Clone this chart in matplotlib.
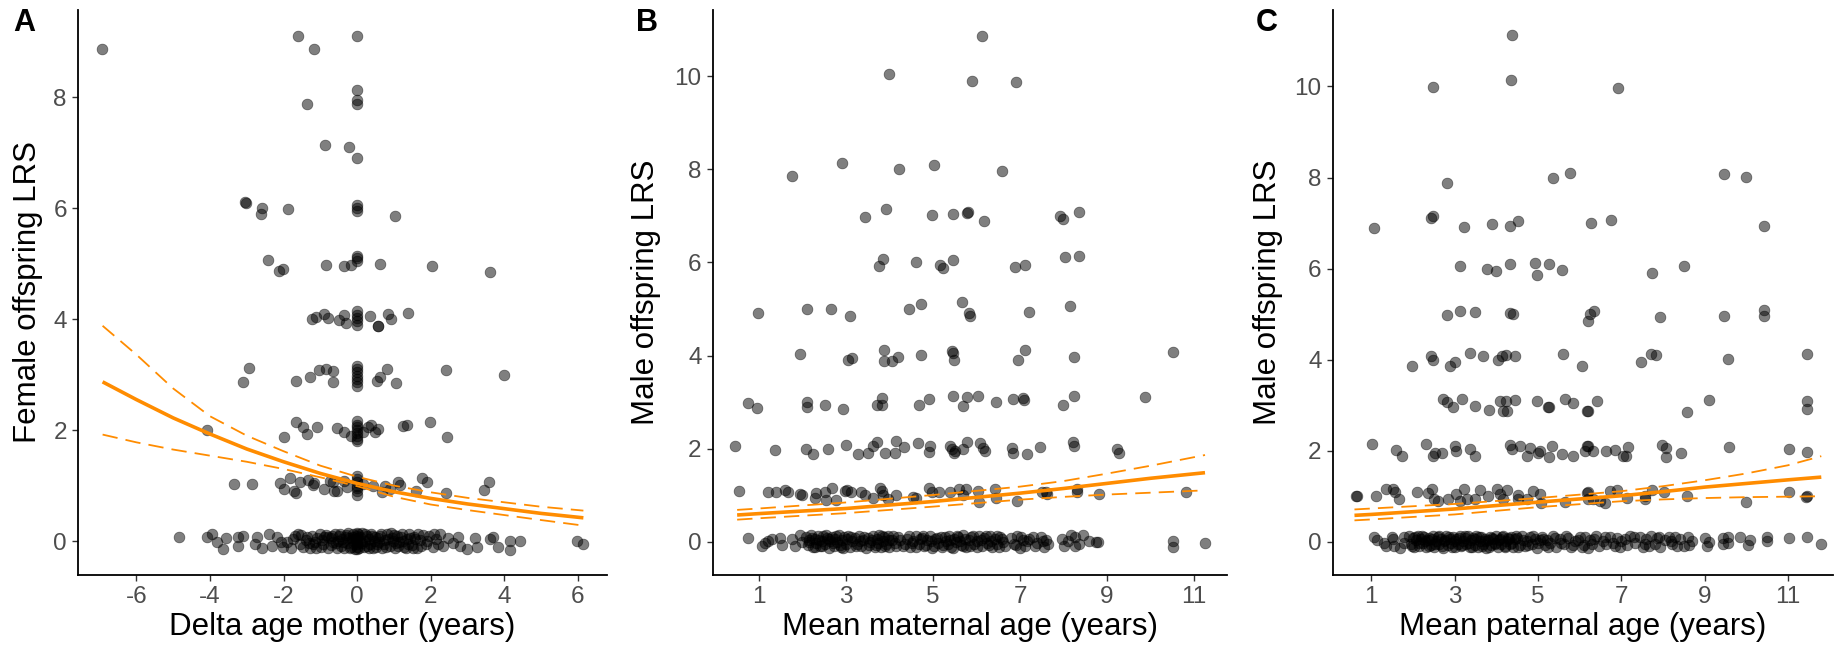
import numpy as np
import matplotlib
matplotlib.use("Agg")
import matplotlib.pyplot as plt

plt.rcParams["font.family"] = ["Liberation Sans", "DejaVu Sans"]
plt.rcParams["axes.unicode_minus"] = False

# ---- panel A: female offspring LRS vs delta age mother ----
a_points = [
    (-6.94, 8.87), (-1.62, 9.10), (0.0, 9.10), (-1.18, 8.87), (0.0, 8.13), (0.0, 7.95), (0.0, 7.87), (-1.35, 7.87),
    (-0.87, 7.14), (-0.23, 7.11), (0.0, 6.90),
    (-3.04, 6.11), (-3.02, 6.10), (-2.59, 6.01), (-2.61, 5.89), (-1.88, 5.99), (0.0, 6.06), (0.0, 6.01), (0.0, 5.95), (1.02, 5.86),
    (-2.42, 5.07), (-2.13, 4.87), (-2.01, 4.90), (-0.86, 4.97), (-0.35, 4.95), (-0.18, 4.97), (0.0, 5.14), (0.0, 5.11),
    (0.0, 5.05), (0.63, 5.0), (2.04, 4.95), (3.60, 4.85),
    (-1.22, 4.01), (-1.11, 4.04), (-0.91, 4.10), (-0.78, 4.02), (-0.49, 3.98), (-0.35, 4.08), (-0.30, 3.93), (0.0, 4.14),
    (0.0, 4.08), (0.0, 4.02), (0.0, 3.96), (0.0, 3.89), (0.34, 4.05), (0.56, 3.87), (0.58, 3.88), (0.83, 4.10), (0.91, 4.01),
    (1.37, 4.11),
    (-2.95, 3.12), (-3.11, 2.86), (-1.66, 2.88), (-1.28, 2.96), (-1.05, 3.08), (-0.85, 3.10), (-0.66, 3.06), (-0.66, 2.86),
    (0.0, 3.16), (0.0, 3.10), (0.0, 3.04), (0.0, 2.98), (0.0, 2.92), (0.0, 2.86), (0.0, 2.80), (0.53, 2.89), (0.62, 2.95),
    (0.80, 3.10), (1.05, 2.85), (2.41, 3.08), (3.98, 3.0),
    (-4.07, 2.01), (-1.98, 1.87), (-1.66, 2.14), (-1.48, 2.05), (-1.35, 1.93), (-1.10, 2.05), (-0.55, 2.03), (-0.37, 1.96),
    (-0.17, 1.90), (0.0, 2.16), (0.0, 2.10), (0.0, 2.05), (0.0, 2.0), (0.0, 1.95), (0.0, 1.90), (0.0, 1.84), (0.0, 1.80),
    (0.17, 1.96), (0.30, 2.05), (0.38, 2.10), (0.48, 1.96), (0.56, 2.02), (1.26, 2.07), (1.36, 2.10), (1.98, 2.15), (2.45, 1.87),
    (-3.35, 1.03), (-2.87, 1.03), (-2.10, 1.05), (-1.99, 0.94), (-1.82, 1.14), (-1.71, 0.91), (-1.67, 0.86), (-1.55, 1.06),
    (-1.33, 1.10), (-1.21, 1.02), (-1.17, 1.05), (-0.90, 0.94), (-0.74, 1.09), (-0.63, 0.90), (-0.65, 1.06), (-0.56, 0.91),
    (-0.37, 1.09), (-0.28, 0.97), (0.0, 1.18), (0.0, 1.12), (0.0, 1.06), (0.0, 1.0), (0.0, 0.95), (0.0, 0.90), (0.0, 0.84),
    (0.17, 1.03), (0.44, 1.0), (0.67, 0.88), (0.76, 1.0), (0.89, 0.94), (1.12, 1.06), (1.17, 1.02), (1.60, 0.90), (1.76, 1.13),
    (1.91, 1.06), (2.42, 0.86), (3.45, 0.92), (3.58, 1.07),
    (-4.83, 0.07), (-4.07, 0.07), (-3.95, 0.12), (-3.82, -0.02), (-3.64, -0.14), (-3.57, 0.05), (-3.25, -0.09), (-3.23, 0.07),
    (-3.11, 0.09), (-2.77, -0.05), (-2.73, 0.07), (-2.60, -0.13), (-2.39, 0.13), (-2.32, -0.09), (-2.18, 0.07), (-2.07, -0.02),
    (-2.02, -0.11), (-1.91, -0.01), (-1.80, -0.13), (-1.69, 0.10), (-1.60, 0.12), (-1.55, -0.06), (-1.46, -0.11), (-1.40, 0.02),
    (-1.35, 0.07), (-1.28, -0.12), (-1.24, 0.10), (-1.20, -0.06), (-1.15, -0.02), (-1.10, 0.05), (-1.01, 0.13), (-0.98, -0.10),
    (-0.92, -0.05), (-0.90, 0.08), (-0.85, 0.11), (-0.78, 0.07), (-0.72, -0.07), (-0.70, 0.05), (-0.65, -0.01), (-0.60, 0.12),
    (-0.55, -0.12), (-0.52, 0.0), (-0.48, 0.09), (-0.44, -0.08), (-0.40, 0.03), (-0.35, -0.13), (-0.31, 0.11), (-0.27, -0.04),
    (-0.25, 0.14), (-0.22, 0.06), (-0.18, -0.10), (-0.15, 0.02), (-0.12, 0.13), (-0.08, -0.06), (-0.04, 0.04),
    (0.0, 0.15), (0.0, 0.10), (0.0, 0.05), (0.0, 0.0), (0.0, -0.05), (0.0, -0.10), (0.0, -0.15),
    (0.05, -0.12), (0.09, 0.08), (0.14, -0.03), (0.20, 0.12), (0.22, 0.0), (0.26, -0.09), (0.31, 0.04), (0.35, -0.06),
    (0.37, 0.13), (0.42, -0.13), (0.45, 0.01), (0.48, 0.07), (0.55, -0.05), (0.58, 0.06), (0.62, 0.10), (0.68, -0.12),
    (0.75, 0.02), (0.78, -0.10), (0.82, 0.12), (0.88, -0.08), (0.92, 0.14), (0.95, 0.05), (0.98, 0.0), (1.02, -0.13),
    (1.08, 0.09), (1.12, -0.08), (1.15, -0.02), (1.18, 0.07), (1.22, 0.12), (1.28, -0.10), (1.35, 0.04), (1.38, -0.05),
    (1.42, 0.13), (1.48, -0.07), (1.55, 0.08), (1.58, 0.03), (1.62, -0.12), (1.70, 0.02), (1.78, 0.11), (1.86, -0.06),
    (1.95, 0.09), (2.05, -0.11), (2.14, 0.04), (2.25, 0.12), (2.34, -0.08), (2.48, 0.06), (2.60, -0.03), (2.75, 0.07),
    (2.80, -0.09), (2.99, -0.14), (3.20, 0.05), (3.25, -0.11), (3.61, 0.04), (3.70, 0.08), (3.84, -0.11), (4.15, 0.0),
    (4.15, -0.16), (4.43, 0.0), (5.97, 0.01), (6.15, -0.05),
    # second layer of the crowded zero band
    (-1.75, 0.03), (-1.52, 0.11), (-1.32, -0.03), (-1.12, -0.13), (-0.95, 0.02), (-0.80, -0.12), (-0.68, 0.10),
    (-0.58, -0.04), (-0.46, 0.13), (-0.38, -0.01), (-0.29, 0.08), (-0.20, -0.13), (-0.10, 0.07), (-0.06, -0.14),
    (0.03, 0.12), (0.07, -0.02), (0.12, 0.14), (0.18, -0.10), (0.28, 0.10), (0.33, -0.13), (0.40, 0.09), (0.52, -0.10),
    (0.60, -0.02), (0.65, 0.13), (0.72, -0.06), (0.85, 0.03), (1.00, 0.11), (1.05, -0.04), (1.25, 0.01), (1.32, -0.13),
    (1.45, 0.05), (1.52, -0.13), (1.66, 0.12), (1.74, -0.09), (1.90, 0.0), (2.10, 0.12), (2.20, -0.06),
]
a_fit_x = [-6.92, -6, -5, -4, -3, -2, -1, 0, 1, 2, 3, 4, 5, 6.15]
a_fit = [2.87, 2.55, 2.22, 1.93, 1.66, 1.43, 1.22, 1.04, 0.89, 0.77, 0.67, 0.585, 0.50, 0.42]
a_upper = [3.88, 3.36, 2.75, 2.25, 1.90, 1.62, 1.36, 1.16, 1.00, 0.88, 0.78, 0.70, 0.62, 0.55]
a_lower = [1.92, 1.78, 1.65, 1.54, 1.43, 1.30, 1.15, 0.99, 0.80, 0.66, 0.56, 0.47, 0.38, 0.28]

# ---- panel B: male offspring LRS vs mean maternal age ----
b_points = [
    (6.13, 10.86), (3.99, 10.06), (5.89, 9.91), (6.90, 9.89), (2.91, 8.15), (1.77, 7.86), (4.21, 8.01), (5.03, 8.09), (6.58, 7.96),
    (3.44, 6.98), (3.91, 7.14), (4.98, 7.02), (5.46, 7.05), (5.78, 7.07), (5.80, 7.08), (6.17, 6.89), (7.91, 7.0), (7.99, 6.93),
    (8.35, 7.09),
    (3.76, 5.93), (3.86, 6.08), (4.61, 6.01), (5.16, 5.94), (5.22, 5.89), (5.46, 6.05), (6.89, 5.90), (7.11, 5.95), (8.03, 6.11),
    (8.35, 6.14),
    (0.97, 4.91), (2.11, 4.99), (2.66, 5.0), (3.10, 4.86), (4.46, 5.0), (4.72, 5.11), (5.67, 5.15), (5.83, 4.91), (5.84, 4.86),
    (7.20, 4.94), (8.15, 5.06),
    (1.94, 4.04), (3.05, 3.90), (3.15, 3.94), (3.88, 4.11), (3.88, 3.89), (4.05, 3.89), (4.19, 3.97), (4.72, 4.01), (5.44, 4.09),
    (5.46, 4.06), (5.48, 3.90), (7.11, 4.11), (6.96, 3.91), (8.24, 3.97), (10.51, 4.08),
    (0.74, 2.98), (0.96, 2.88), (2.11, 2.99), (2.11, 2.89), (2.51, 2.93), (2.94, 2.86), (3.72, 2.93), (3.82, 3.09), (3.82, 2.93),
    (4.68, 2.93), (4.91, 3.07), (5.46, 3.13), (5.69, 2.91), (5.77, 3.11), (6.04, 3.13), (6.44, 2.99), (6.83, 3.07), (7.07, 3.09),
    (7.09, 3.04), (7.99, 2.94), (8.24, 3.13), (9.87, 3.11),
    (0.46, 2.06), (1.37, 1.96), (2.08, 2.0), (2.25, 1.88), (2.59, 1.99), (3.01, 2.07), (3.27, 1.88), (3.50, 1.90), (3.63, 2.06),
    (3.72, 2.13), (3.89, 1.90), (4.12, 1.90), (4.16, 2.16), (4.33, 2.04), (4.65, 2.11), (4.91, 1.93), (4.94, 2.06), (5.40, 2.06),
    (5.44, 1.99), (5.48, 1.90), (5.50, 1.95), (5.70, 1.99), (5.77, 2.13), (6.08, 2.11), (6.15, 2.02), (6.19, 1.95), (6.81, 2.02),
    (6.84, 1.91), (7.15, 1.89), (7.46, 2.04), (8.22, 2.13), (8.24, 2.06), (9.22, 1.99), (9.28, 1.90),
    (0.54, 1.09), (1.21, 1.07), (1.39, 1.07), (1.60, 1.11), (1.66, 1.07), (1.94, 1.02), (2.0, 0.99), (2.29, 0.93), (2.32, 1.04),
    (2.51, 1.06), (2.54, 0.89), (2.68, 1.16), (2.78, 0.89), (2.97, 1.09), (3.03, 1.11), (3.12, 1.07), (3.34, 1.07), (3.44, 0.99),
    (3.63, 0.93), (3.79, 1.16), (3.82, 1.09), (3.86, 0.99), (3.97, 0.91), (4.16, 1.0), (4.54, 0.95), (4.60, 0.93), (4.91, 1.16),
    (4.97, 1.07), (5.14, 1.07), (5.40, 1.07), (5.60, 1.13), (5.69, 0.99), (5.75, 1.12), (6.04, 1.09), (6.06, 0.86), (6.42, 1.14),
    (6.45, 0.93), (6.92, 0.88), (7.50, 1.06), (7.59, 1.07), (7.61, 1.02), (8.30, 1.13), (8.31, 1.06), (8.82, 1.02), (10.81, 1.07),
    (0.74, 0.07), (1.06, -0.09), (1.13, -0.04), (1.21, 0.02), (1.29, 0.06), (1.48, 0.07), (1.52, -0.07), (1.75, 0.06),
    (1.83, -0.09), (1.94, 0.13), (1.98, -0.01),
    (2.08, 0.10), (2.12, -0.08), (2.16, 0.03), (2.20, 0.13), (2.24, -0.12), (2.28, 0.05), (2.32, -0.04), (2.36, 0.11),
    (2.40, -0.10), (2.44, 0.02), (2.48, 0.12), (2.52, -0.06), (2.56, 0.07), (2.60, -0.13), (2.64, 0.01), (2.68, 0.10),
    (2.72, -0.09), (2.76, 0.05), (2.80, -0.02), (2.84, 0.13), (2.88, -0.11), (2.92, 0.04), (2.96, 0.09), (3.00, -0.06),
    (3.05, 0.12), (3.10, -0.12), (3.15, 0.02), (3.20, 0.08), (3.25, -0.05), (3.30, 0.11), (3.35, -0.10), (3.40, 0.03),
    (3.45, -0.13), (3.50, 0.07), (3.56, -0.02), (3.62, 0.12), (3.68, -0.08), (3.72, 0.05), (3.76, 0.13), (3.80, -0.11),
    (3.84, 0.01), (3.88, 0.09), (3.92, -0.05), (3.96, 0.11), (4.00, -0.12), (4.05, 0.04), (4.12, -0.03), (4.20, 0.10),
    (4.30, -0.09), (4.40, 0.06), (4.48, -0.12), (4.55, 0.02), (4.62, 0.12), (4.68, -0.06), (4.74, 0.08), (4.80, -0.10),
    (4.86, 0.03), (4.92, 0.11), (4.98, -0.13), (5.05, 0.05), (5.12, -0.04), (5.18, 0.10), (5.24, -0.08), (5.30, 0.01),
    (5.36, 0.12), (5.42, -0.11), (5.48, 0.06), (5.52, -0.02), (5.58, 0.09), (5.64, -0.07), (5.70, 0.13), (5.76, -0.12),
    (5.82, 0.04), (5.88, 0.10), (5.94, -0.06), (6.00, 0.02), (6.06, 0.12), (6.12, -0.09), (6.18, 0.07), (6.24, -0.03),
    (6.30, 0.11), (6.36, -0.12), (6.42, 0.05), (6.48, -0.06), (6.54, 0.09), (6.60, 0.0), (6.66, -0.10), (6.80, 0.08),
    (6.86, -0.05), (6.92, 0.11), (7.00, -0.13), (7.06, 0.03), (7.12, -0.09), (7.20, 0.06), (7.30, 0.10), (7.40, -0.04),
    (7.48, 0.09), (7.55, -0.11), (7.60, 0.04), (7.65, -0.06), (7.97, 0.05), (8.02, -0.09), (8.17, 0.13), (8.26, 0.10),
    (8.26, -0.09), (8.45, 0.13), (8.59, 0.01), (8.75, 0.0), (8.80, 0.0),
    (10.51, 0.02), (10.51, -0.12), (11.25, -0.04),
    # second layer of the crowded zero band
    (2.14, 0.00), (2.22, 0.07), (2.30, -0.12), (2.38, 0.04), (2.46, -0.09), (2.54, 0.13), (2.62, 0.05), (2.70, -0.03),
    (2.78, 0.11), (2.86, -0.07), (2.94, -0.13), (3.02, 0.05), (3.12, 0.09), (3.22, -0.10), (3.32, 0.02), (3.42, 0.10),
    (3.52, -0.08), (3.60, 0.04), (3.66, -0.12), (3.74, -0.03), (3.82, 0.12), (3.90, -0.09), (3.98, 0.03), (4.08, 0.12),
    (4.16, -0.10), (4.25, 0.04), (4.36, -0.05), (4.45, 0.12), (4.52, -0.03), (4.60, -0.11), (4.70, 0.05), (4.78, 0.12),
    (4.84, -0.07), (4.95, 0.02), (5.02, -0.10), (5.10, 0.08), (5.20, -0.12), (5.28, 0.10), (5.34, -0.05), (5.40, 0.03),
    (5.46, -0.13), (5.55, 0.11), (5.62, 0.02), (5.68, -0.10), (5.74, 0.05), (5.86, -0.09), (5.92, 0.12), (6.02, -0.11),
    (6.10, 0.04), (6.22, 0.12), (6.28, -0.08), (6.34, 0.01), (6.46, 0.12), (6.52, -0.11), (6.58, 0.05), (6.90, -0.07),
    (7.02, 0.09), (7.16, 0.01), (7.35, -0.10), (7.52, 0.02), (8.10, 0.02), (8.35, -0.05),
]
b_fit_x = [0.5, 1, 3, 5, 7, 8, 9, 10, 11.25]
b_fit = [0.57, 0.60, 0.71, 0.86, 1.04, 1.14, 1.25, 1.36, 1.48]
b_upper = [0.68, 0.71, 0.84, 1.0, 1.18, 1.30, 1.46, 1.63, 1.86]
b_lower = [0.47, 0.50, 0.61, 0.75, 0.90, 0.96, 1.01, 1.05, 1.10]

# ---- panel C: male offspring LRS vs mean paternal age ----
c_points = [
    (4.38, 11.13), (4.36, 10.15), (2.49, 9.99), (6.92, 9.96), (2.83, 7.89), (5.37, 7.99), (5.77, 8.09), (9.47, 8.08), (10.0, 8.01),
    (1.07, 6.90), (2.44, 7.12), (2.49, 7.15), (3.22, 6.91), (3.90, 6.99), (4.33, 6.93), (4.52, 7.04), (6.28, 7.01), (6.76, 7.06),
    (10.43, 6.94),
    (3.13, 6.05), (3.77, 6.0), (3.99, 5.94), (4.33, 6.09), (4.92, 6.13), (4.99, 5.85), (5.26, 6.10), (5.58, 5.97), (7.75, 5.90),
    (8.50, 6.05),
    (2.83, 4.99), (3.13, 5.06), (3.49, 5.04), (4.33, 5.03), (4.40, 5.01), (6.25, 5.01), (6.34, 5.06), (6.21, 4.84), (7.94, 4.93),
    (9.47, 4.95), (10.43, 5.09), (10.43, 4.96),
    (1.98, 3.85), (2.44, 4.09), (2.49, 3.99), (2.89, 3.85), (3.01, 3.94), (3.37, 4.15), (3.68, 4.09), (4.05, 4.0), (4.13, 4.09),
    (4.24, 4.11), (4.45, 4.09), (5.60, 4.12), (6.05, 3.87), (7.47, 3.95), (7.71, 4.13), (7.83, 4.11), (9.57, 4.02), (11.45, 4.13),
    (2.72, 3.14), (2.83, 3.06), (2.96, 2.96), (3.17, 3.14), (3.49, 2.98), (3.83, 2.90), (4.08, 3.09), (4.16, 2.88), (4.24, 3.09),
    (4.27, 2.88), (4.45, 3.11), (4.99, 3.09), (5.25, 2.96), (5.27, 2.97), (5.65, 3.14), (5.85, 3.05), (6.17, 2.87), (6.21, 2.88),
    (6.41, 3.10), (8.59, 2.85), (9.11, 3.12), (11.45, 3.09), (11.45, 2.92),
    (1.03, 2.15), (1.60, 2.01), (1.74, 1.88), (2.31, 2.14), (2.48, 1.88), (2.53, 1.94), (2.70, 1.95), (3.01, 2.10), (3.04, 1.99),
    (3.37, 2.03), (3.49, 1.88), (4.32, 2.12), (4.37, 2.03), (4.57, 2.10), (4.75, 1.88), (4.81, 2.06), (5.01, 1.95), (5.05, 2.0),
    (5.26, 1.86), (5.35, 2.10), (5.59, 1.92), (5.84, 1.88), (6.13, 1.99), (6.17, 2.10), (6.21, 2.10), (6.33, 1.99), (6.64, 2.0),
    (6.85, 2.01), (7.05, 1.88), (7.11, 1.88), (7.17, 2.08), (7.97, 2.12), (8.07, 2.05), (8.07, 1.86), (8.43, 1.95), (9.59, 2.08),
    (11.03, 2.04), (11.45, 1.97),
    (0.64, 1.0), (0.66, 1.0), (1.12, 1.0), (1.35, 1.15), (1.53, 1.15), (1.58, 1.09), (1.68, 0.94), (2.11, 1.09), (2.37, 1.07),
    (2.45, 1.15), (2.51, 0.94), (2.61, 0.89), (2.85, 0.94), (3.04, 1.04), (3.12, 0.89), (3.23, 1.15), (3.29, 0.93), (3.49, 0.93),
    (3.61, 1.13), (3.81, 1.0), (4.01, 1.15), (4.09, 1.04), (4.16, 0.94), (4.27, 1.13), (4.53, 1.02), (4.53, 0.93), (4.73, 0.93),
    (4.89, 1.11), (5.05, 1.06), (5.07, 0.86), (5.65, 0.87), (6.17, 1.07), (6.21, 1.09), (6.21, 0.94), (6.33, 0.93), (6.49, 0.89),
    (6.61, 0.86), (6.73, 1.11), (6.89, 1.13), (7.13, 0.96), (7.57, 0.93), (7.57, 1.0), (7.73, 1.13), (8.03, 1.09), (8.59, 1.0),
    (9.99, 0.87), (11.03, 1.09), (11.45, 1.0), (11.44, 0.99),
    (1.07, 0.11), (1.15, 0.04), (1.30, -0.02), (1.36, -0.10), (1.50, 0.11), (1.53, 0.06), (1.56, -0.10), (1.70, -0.14),
    (1.80, 0.11), (1.80, -0.02),
    (1.92, 0.12), (1.96, -0.05), (2.00, 0.08), (2.04, -0.12), (2.08, 0.03), (2.12, 0.13), (2.16, -0.09), (2.20, 0.05),
    (2.24, -0.02), (2.28, 0.11), (2.32, -0.12), (2.36, 0.04), (2.40, 0.09), (2.44, -0.07), (2.48, 0.13), (2.52, -0.11),
    (2.56, 0.02), (2.60, 0.10), (2.64, -0.05), (2.68, 0.07), (2.72, -0.13), (2.76, 0.01), (2.80, 0.12), (2.84, -0.08),
    (2.88, 0.05), (2.92, -0.03), (2.96, 0.11), (3.00, -0.12), (3.04, 0.06), (3.08, -0.06), (3.12, 0.13), (3.16, -0.10),
    (3.20, 0.02), (3.24, 0.09), (3.28, -0.04), (3.32, 0.12), (3.36, -0.12), (3.40, 0.04), (3.44, 0.08), (3.48, -0.07),
    (3.52, 0.13), (3.56, -0.11), (3.60, 0.01), (3.64, 0.10), (3.68, -0.05), (3.72, 0.06), (3.76, -0.13), (3.80, 0.03),
    (3.84, 0.11), (3.88, -0.08), (3.92, 0.05), (3.96, -0.02), (4.00, 0.12), (4.04, -0.11), (4.08, 0.07), (4.12, -0.06),
    (4.16, 0.13), (4.20, -0.09), (4.24, 0.02), (4.28, 0.09), (4.32, -0.04), (4.36, 0.11), (4.40, -0.12), (4.44, 0.05),
    (4.50, 0.08), (4.56, -0.07), (4.62, 0.12), (4.68, -0.10), (4.74, 0.01), (4.80, 0.10), (4.86, -0.05), (4.92, 0.06),
    (4.98, -0.13), (5.04, 0.04), (5.10, 0.11), (5.16, -0.08), (5.22, 0.03), (5.28, -0.02), (5.36, 0.12), (5.44, -0.11),
    (5.52, 0.05), (5.62, -0.06), (5.72, 0.09), (5.80, -0.12), (5.90, 0.02), (6.00, 0.11),
    (6.10, -0.07), (6.14, 0.10), (6.20, -0.13), (6.24, 0.04), (6.30, -0.05), (6.40, 0.12), (6.46, -0.10), (6.56, 0.02),
    (6.64, -0.06), (6.72, 0.11), (6.80, -0.03), (6.90, 0.09), (6.98, -0.12), (7.08, 0.05), (7.14, -0.08), (7.22, 0.12),
    (7.34, -0.03), (7.44, 0.10), (7.52, -0.11), (7.60, 0.06), (7.66, -0.10), (7.72, 0.13), (7.80, -0.04), (7.86, 0.08),
    (7.94, -0.12), (8.05, 0.03), (8.14, 0.10), (8.22, -0.06), (8.30, 0.11), (8.34, -0.10), (8.42, 0.07), (8.60, 0.10),
    (8.62, -0.08), (8.70, 0.02), (9.00, 0.08), (9.05, -0.10), (9.10, 0.00), (9.45, 0.09), (9.45, -0.06),
    (9.57, 0.11), (9.57, -0.02), (9.85, 0.11), (10.05, -0.08), (10.09, 0.04), (10.50, 0.11), (10.50, 0.01), (11.03, 0.09),
    (11.45, 0.11), (11.80, -0.04),
    # second layer of the crowded zero band
    (1.98, -0.10), (2.06, 0.10), (2.14, -0.03), (2.22, 0.12), (2.30, 0.02), (2.38, -0.10), (2.46, 0.06), (2.54, -0.04),
    (2.62, 0.13), (2.70, -0.09), (2.78, 0.04), (2.86, 0.10), (2.94, -0.12), (3.02, 0.01), (3.10, 0.09), (3.18, -0.07),
    (3.26, 0.13), (3.34, -0.02), (3.42, -0.11), (3.50, 0.05), (3.58, 0.11), (3.66, -0.09), (3.74, 0.02), (3.82, -0.12),
    (3.90, 0.09), (3.98, -0.06), (4.06, 0.03), (4.14, 0.11), (4.22, -0.12), (4.30, 0.06), (4.38, -0.02), (4.47, 0.12),
    (4.53, -0.11), (4.65, 0.04), (4.77, -0.07), (4.89, 0.12), (5.00, -0.03), (5.13, 0.06), (5.25, -0.11), (5.40, 0.08),
    (5.55, -0.02), (5.68, 0.12), (5.85, -0.08), (5.96, 0.04), (6.06, -0.12), (6.35, 0.07), (6.60, 0.11), (6.85, -0.09),
    (7.00, 0.02), (7.30, 0.11), (7.56, -0.05), (7.90, 0.10), (8.20, 0.01), (8.50, -0.10),
]
c_fit_x = [0.6, 1, 3, 5, 7, 8, 9, 10, 11, 11.8]
c_fit = [0.58, 0.60, 0.72, 0.87, 1.01, 1.10, 1.20, 1.28, 1.36, 1.42]
c_upper = [0.71, 0.73, 0.83, 0.96, 1.11, 1.22, 1.35, 1.50, 1.68, 1.88]
c_lower = [0.47, 0.49, 0.60, 0.76, 0.89, 0.93, 0.96, 0.98, 0.99, 1.0]

ORANGE = "#FF8C00"
TICK_GREY = "#4D4D4D"

fig = plt.figure(figsize=(18.47, 6.52), dpi=100)

panels = [
    # points, fit x, fit, upper, lower, rect, xlim, ylim, xticks, yticks, xlabel, ylabel, label x, letter, letter x
    (a_points, a_fit_x, a_fit, a_upper, a_lower, [0.0422, 0.1181, 0.2864, 0.8666],
     (-7.59, 6.79), (-0.61, 9.57), range(-6, 7, 2), range(0, 9, 2),
     "Delta age mother (years)", "Female offspring LRS", -0.066, "A", 0.013),
    (b_points, b_fit_x, b_fit, b_upper, b_lower, [0.3859, 0.1181, 0.2783, 0.8666],
     (-0.06, 11.75), (-0.72, 11.43), range(1, 12, 2), range(0, 11, 2),
     "Mean maternal age (years)", "Male offspring LRS", -0.100, "B", 0.3503),
    (c_points, c_fit_x, c_fit, c_upper, c_lower, [0.7216, 0.1181, 0.2708, 0.8666],
     (0.08, 12.08), (-0.73, 11.68), range(1, 12, 2), range(0, 11, 2),
     "Mean paternal age (years)", "Male offspring LRS", -0.099, "C", 0.6858),
]

for (pts, fx, fy, fu, fl, rect, xlim, ylim, xt, yt, xlab, ylab, ylab_x, letter, letter_x) in panels:
    ax = fig.add_axes(rect)
    pts = np.array(pts)
    ax.scatter(pts[:, 0], pts[:, 1], s=60, c="black", alpha=0.5,
               edgecolors="black", linewidths=0.5, zorder=2)
    ax.plot(fx, fy, color=ORANGE, lw=2.6, zorder=3, solid_capstyle="butt")
    ax.plot(fx, fu, color=ORANGE, lw=1.3, dashes=(8.5, 4.5), zorder=3)
    ax.plot(fx, fl, color=ORANGE, lw=1.3, dashes=(8.5, 4.5), zorder=3)

    ax.set_xlim(*xlim)
    ax.set_ylim(*ylim)
    ax.set_xticks(list(xt))
    ax.set_yticks(list(yt))
    for side in ("top", "right"):
        ax.spines[side].set_visible(False)
    for side in ("left", "bottom"):
        ax.spines[side].set_linewidth(1.3)
        ax.spines[side].set_color("black")
    ax.tick_params(axis="both", length=4, width=1.0, color="#333333",
                   labelsize=17.5, labelcolor=TICK_GREY, pad=4)

    ax.set_xlabel(xlab, fontsize=22.5, color="black")
    ax.xaxis.set_label_coords(0.5, -0.066)
    ax.set_ylabel(ylab, fontsize=22.5, color="black")
    ax.yaxis.set_label_coords(ylab_x, 0.5)

    fig.text(letter_x, 0.988, letter, fontsize=22, fontweight="bold",
             ha="center", va="top")

fig.savefig("out.png", dpi=100)
